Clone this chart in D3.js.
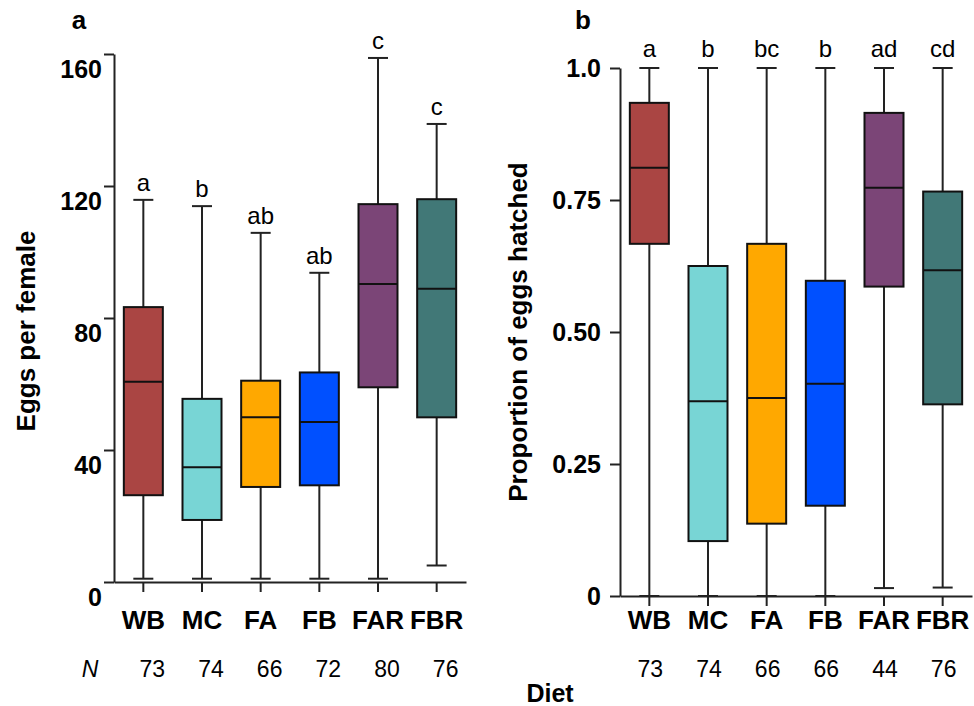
<!DOCTYPE html>
<html>
<head>
<meta charset="utf-8">
<script src="https://cdn.jsdelivr.net/npm/d3@7"></script>
<style>
  body { margin: 0; background: #fff; }
  svg { display: block; font-family: "Liberation Sans", Arial, sans-serif; }
</style>
</head>
<body>
<div id="chart"></div>
<script>
// diets and colours
const diets = ['WB', 'MC', 'FA', 'FB', 'FAR', 'FBR'];
const dietColors = ['#aa4543', '#78d5d5', '#ffa800', '#0050ff', '#7b4577', '#417877'];

// panel a: eggs per female
const eggsMin = [1, 1, 1, 1, 1, 5];
const eggsQ1 = [26.3, 18.8, 28.8, 29.3, 59, 49.9];
const eggsMed = [60.7, 34.8, 49.9, 48.5, 90.3, 88.9];
const eggsQ3 = [83.3, 55.5, 61, 63.5, 114.5, 116];
const eggsMax = [115.8, 113.9, 105.8, 93.7, 158.8, 138.8];
const eggsLetters = ['a', 'b', 'ab', 'ab', 'c', 'c'];
const eggsN = [73, 74, 66, 72, 80, 76];
const eggsTicks = [0, 40, 80, 120, 160];
const eggsTickLabels = ['0', '40', '80', '120', '160'];

// panel b: proportion hatched
const hatchMin = [0, 0, 0, 0, 0.015, 0.016];
const hatchQ1 = [0.667, 0.104, 0.137, 0.171, 0.586, 0.363];
const hatchMed = [0.811, 0.369, 0.375, 0.402, 0.773, 0.617];
const hatchQ3 = [0.934, 0.625, 0.667, 0.597, 0.915, 0.766];
const hatchMax = [1, 1, 1, 1, 1, 1];
const hatchLetters = ['a', 'b', 'bc', 'b', 'ad', 'cd'];
const hatchN = [73, 74, 66, 66, 44, 76];
const hatchTicks = [0, 0.25, 0.5, 0.75, 1.0];
const hatchTickLabels = ['0', '0.25', '0.50', '0.75', '1.0'];

const width = 974, height = 706;
const svg = d3.select('#chart').append('svg')
    .attr('width', width).attr('height', height);

function panel(opts) {
    const x = d3.scaleBand().domain(diets).range([opts.left, opts.right]);
    const y = d3.scaleLinear().domain(opts.domain).range([opts.bottom, opts.top]);
    const g = svg.append('g');

    const rows = diets.map(function (d, i) {
        return { diet: d, color: dietColors[i], min: opts.min[i], q1: opts.q1[i], med: opts.med[i],
            q3: opts.q3[i], max: opts.max[i], letter: opts.letters[i], n: opts.n[i] };
    });

    const boxW = 39, capW = 20;

    // y axis
    const yAxis = g.append('g')
        .attr('transform', 'translate(' + opts.left + ',0)')
        .call(d3.axisLeft(y).tickValues(opts.ticks).tickSize(10).tickSizeOuter(0).tickPadding(opts.yPad)
            .tickFormat(function (d, i) { return opts.tickLabels[i]; }));
    yAxis.select('.domain').attr('stroke', '#222').attr('stroke-width', 2);
    yAxis.selectAll('.tick line').attr('stroke', '#222').attr('stroke-width', 2);
    yAxis.selectAll('.tick text')
        .attr('fill', '#000').attr('font-size', 25).attr('font-weight', 'bold')
        .attr('font-family', '"Liberation Sans", Arial, sans-serif')
        .attr('dy', opts.labelDy);

    // x axis
    const xAxis = g.append('g')
        .attr('transform', 'translate(0,' + opts.bottom + ')')
        .call(d3.axisBottom(x).tickSize(10).tickSizeOuter(0).tickPadding(opts.xPad));
    xAxis.select('.domain').attr('stroke', '#222').attr('stroke-width', 2);
    xAxis.selectAll('.tick line').attr('stroke', '#222').attr('stroke-width', 2);
    xAxis.selectAll('.tick text')
        .attr('fill', '#000').attr('font-size', 26).attr('font-weight', 'bold')
        .attr('font-family', '"Liberation Sans", Arial, sans-serif');

    const box = g.selectAll('.box').data(rows).enter().append('g').attr('class', 'box')
        .attr('transform', function (d) { return 'translate(' + (x(d.diet) + x.bandwidth() / 2) + ',0)'; });

    // whiskers
    box.append('line')
        .attr('x1', 0).attr('x2', 0)
        .attr('y1', function (d) { return y(d.max); })
        .attr('y2', function (d) { return y(d.min); })
        .attr('stroke', '#222').attr('stroke-width', 2);
    box.append('line')
        .attr('x1', -capW / 2).attr('x2', capW / 2)
        .attr('y1', function (d) { return y(d.max); })
        .attr('y2', function (d) { return y(d.max); })
        .attr('stroke', '#222').attr('stroke-width', 2);
    box.append('line')
        .attr('x1', -capW / 2).attr('x2', capW / 2)
        .attr('y1', function (d) { return y(d.min); })
        .attr('y2', function (d) { return y(d.min); })
        .attr('stroke', '#222').attr('stroke-width', 2);

    box.append('rect')
        .attr('x', -boxW / 2).attr('width', boxW)
        .attr('y', function (d) { return y(d.q3); })
        .attr('height', function (d) { return y(d.q1) - y(d.q3); })
        .attr('fill', function (d) { return d.color; })
        .attr('stroke', '#111').attr('stroke-width', 2);
    box.append('line')
        .attr('x1', -boxW / 2).attr('x2', boxW / 2)
        .attr('y1', function (d) { return y(d.med); })
        .attr('y2', function (d) { return y(d.med); })
        .attr('stroke', '#111').attr('stroke-width', 2);

    // significance letters
    box.append('text')
        .text(function (d) { return d.letter; })
        .attr('y', function (d) { return y(d.max) - opts.letterGap; })
        .attr('text-anchor', 'middle')
        .attr('font-size', 24).attr('fill', '#000');

    // sample sizes
    box.append('text')
        .text(function (d) { return d.n; })
        .attr('x', opts.nShift)
        .attr('y', 677)
        .attr('text-anchor', 'middle')
        .attr('font-size', 23).attr('fill', '#000');

    // y title
    svg.append('text')
        .attr('transform', 'translate(' + opts.titleX + ',' + opts.titleY + ') rotate(-90)')
        .attr('text-anchor', 'middle')
        .attr('font-size', 26).attr('font-weight', 'bold')
        .text(opts.title);

    // panel letter
    svg.append('text')
        .attr('x', opts.tagX).attr('y', 29)
        .attr('text-anchor', 'middle')
        .attr('font-size', 26).attr('font-weight', 'bold')
        .text(opts.tag);
}

panel({
    left: 114, right: 466, top: 54, bottom: 582, domain: [0, 160],
    min: eggsMin, q1: eggsQ1, med: eggsMed, q3: eggsQ3, max: eggsMax,
    letters: eggsLetters, n: eggsN, ticks: eggsTicks, tickLabels: eggsTickLabels,
    yPad: 2, labelDy: '0.95em', xPad: 19, letterGap: 9, nShift: 9,
    title: 'Eggs per female', titleX: 35, titleY: 331, tag: 'a', tagX: 79
});

panel({
    left: 620, right: 972, top: 68, bottom: 596, domain: [0, 1],
    min: hatchMin, q1: hatchQ1, med: hatchMed, q3: hatchQ3, max: hatchMax,
    letters: hatchLetters, n: hatchN, ticks: hatchTicks, tickLabels: hatchTickLabels,
    yPad: 9, labelDy: '0.35em', xPad: 5, letterGap: 11, nShift: 1,
    title: 'Proportion of eggs hatched', titleX: 527, titleY: 332, tag: 'b', tagX: 583
});

// N label and x title
svg.append('text')
    .attr('x', 90).attr('y', 677)
    .attr('text-anchor', 'middle')
    .attr('font-size', 23).attr('font-style', 'italic')
    .text('N');

svg.append('text')
    .attr('x', 550).attr('y', 702)
    .attr('text-anchor', 'middle')
    .attr('font-size', 25).attr('font-weight', 'bold')
    .text('Diet');
</script>
</body>
</html>
